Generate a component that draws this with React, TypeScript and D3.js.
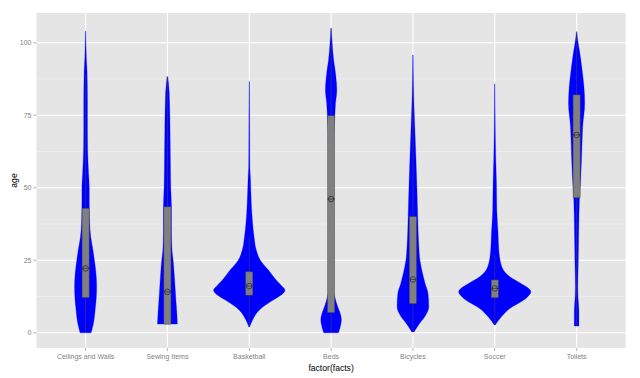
import React from "react";
import * as d3 from "d3";

// ---------- data ----------
const categories = ["Ceilings and Walls", "Sewing Items", "Basketball", "Beds", "Bicycles", "Soccer", "Toilets"];

// violin profiles: [age, relative density (1 = widest violin)]
const ceilingsProfile: [number, number][] = [
  [0, 0.15], [3, 0.21], [8, 0.26], [12, 0.29], [16, 0.3], [20, 0.285], [23, 0.26], [28.5, 0.2], [33, 0.14],
  [38, 0.11], [45, 0.1], [50, 0.1], [55, 0.08], [63, 0.055], [70, 0.05], [80, 0.05], [90, 0.04], [95, 0.02], [104, 0.005],
];
const sewingProfile: [number, number][] = [
  [3, 0.27], [7, 0.255], [11.3, 0.23], [19.3, 0.19], [25, 0.155], [28.5, 0.125], [35, 0.11], [43, 0.11],
  [50, 0.09], [59.6, 0.08], [71, 0.07], [82.6, 0.05], [88.3, 0.01],
];
const basketballProfile: [number, number][] = [
  [2, 0.01], [4.4, 0.09], [7.8, 0.27], [11.3, 0.65], [12.8, 0.84], [14.7, 0.97], [16.3, 0.87], [18.2, 0.73],
  [21.6, 0.52], [25, 0.3], [28.5, 0.19], [33.1, 0.13], [37.8, 0.09], [44.7, 0.055], [53.8, 0.03], [57.2, 0.016],
  [70, 0.011], [86.6, 0.005],
];
const bedsProfile: [number, number][] = [
  [0, 0.2], [2.1, 0.25], [4.4, 0.28], [7, 0.24], [9, 0.18], [12.4, 0.1], [16, 0.05], [25, 0.04], [40, 0.04],
  [55, 0.05], [65, 0.07], [68.8, 0.08], [74.5, 0.1], [79.1, 0.12], [83.7, 0.155], [87, 0.14], [90.5, 0.11],
  [94, 0.07], [99.8, 0.03], [105, 0.005],
];
const bicyclesProfile: [number, number][] = [
  [0.3, 0.03], [3.2, 0.18], [5.5, 0.32], [9, 0.43], [13.6, 0.41], [17, 0.33], [20.5, 0.26], [25, 0.19],
  [29.7, 0.16], [40, 0.13], [49.2, 0.11], [60.7, 0.08], [71, 0.05], [78, 0.03], [85, 0.016], [95.8, 0.005],
];
const soccerProfile: [number, number][] = [
  [2.7, 0.014], [5.5, 0.18], [8.4, 0.41], [11.3, 0.79], [12.8, 0.92], [14.1, 0.98], [15.5, 0.9], [17, 0.71],
  [19.3, 0.41], [22.8, 0.19], [28.5, 0.11], [34.3, 0.09], [42.3, 0.055], [51.5, 0.046], [60, 0.027],
  [70, 0.014], [85.8, 0.005],
];
const toiletsProfile: [number, number][] = [
  [2.3, 0.063], [7.8, 0.063], [12, 0.04], [15.9, 0.033], [25, 0.046], [36.6, 0.06], [45.8, 0.076],
  [53.8, 0.114], [61.9, 0.14], [71, 0.165], [79.1, 0.22], [84.8, 0.2], [90.6, 0.15], [96.3, 0.09],
  [100.9, 0.03], [103.8, 0.005],
];
const profiles = [ceilingsProfile, sewingProfile, basketballProfile, bedsProfile, bicyclesProfile, soccerProfile, toiletsProfile];

// boxplot statistics
const q1 = [12.2, 3, 13, 7, 10.1, 12.1, 46.6];
const medians = [22.2, 14.1, 16.1, 46.1, 18.4, 15.3, 68.2];
const q3 = [42.9, 43.4, 21, 74.8, 40, 18.2, 82];
const whiskerLow = [0, 3, 2, 0, 0.3, 3, 2.3];
const whiskerHigh = [89, 88.3, 33, 105, 85, 27, 103.8];

const yTicks = [0, 25, 50, 75, 100];
const yMinor = [12.5, 37.5, 62.5, 87.5];

// ---------- layout ----------
const W = 640, H = 378;
const left = 36.5, right = 625.7, top = 13, bottom = 348;

export default function App() {
  const x = d3.scaleLinear().domain([0.4, categories.length + 0.6]).range([left, right]);
  const y = d3.scaleLinear().domain([-5.25, 110.25]).range([bottom, top]);
  const unit = x(2) - x(1);
  const w = d3.scaleLinear().domain([0, 1]).range([0, 0.45 * unit]);
  const boxHalf = 3.5;
  const tickColor = "#7F7F7F";
  const font = "'Liberation Sans', Arial, sans-serif";

  return (
    <svg width={W} height={H} style={{ position: "absolute", left: 0, top: 0, background: "#fff" }}>
      <rect x={left} y={top} width={right - left} height={bottom - top} fill="#E5E5E5" />
      {yMinor.map((v) => (
        <line key={"mn" + v} x1={left} x2={right} y1={y(v)} y2={y(v)} stroke="#F2F2F2" strokeWidth={0.6} />
      ))}
      {yTicks.map((v) => (
        <line key={"mj" + v} x1={left} x2={right} y1={y(v)} y2={y(v)} stroke="#FFFFFF" strokeWidth={1.1} />
      ))}
      {categories.map((c, i) => (
        <line key={"vx" + c} x1={x(i + 1)} x2={x(i + 1)} y1={top} y2={bottom} stroke="#FFFFFF" strokeWidth={1.1} />
      ))}
      {profiles.map((p, i) => {
        const cx = x(i + 1);
        const area = d3
          .area<[number, number]>()
          .y((d) => y(d[0]))
          .x0((d) => cx - w(d[1]))
          .x1((d) => cx + w(d[1]))
          .curve(d3.curveMonotoneY);
        return <path key={"v" + i} d={area(p) || ""} fill="#0000FF" stroke="#0000FF" strokeWidth={0.3} />;
      })}
      {categories.map((c, i) => {
        const cx = x(i + 1);
        return (
          <g key={"b" + c}>
            <line x1={cx} x2={cx} y1={y(whiskerLow[i])} y2={y(whiskerHigh[i])} stroke="#4D4D4D" strokeWidth={0.5} />
            <rect x={cx - boxHalf} y={y(q3[i])} width={2 * boxHalf} height={y(q1[i]) - y(q3[i])} fill="#808080" stroke="#4D4D4D" strokeWidth={0.5} />
            <line x1={cx - boxHalf} x2={cx + boxHalf} y1={y(medians[i])} y2={y(medians[i])} stroke="#333333" strokeWidth={0.8} />
            <circle cx={cx} cy={y(medians[i])} r={2.8} fill="none" stroke="#222222" strokeWidth={0.7} />
          </g>
        );
      })}
      {yTicks.map((v) => (
        <g key={"yt" + v}>
          <line x1={left - 3} x2={left} y1={y(v)} y2={y(v)} stroke={tickColor} strokeWidth={0.6} />
          <text x={left - 5} y={y(v)} dy="0.35em" textAnchor="end" fontSize={7} fill={tickColor} fontFamily={font}>
            {v}
          </text>
        </g>
      ))}
      {categories.map((c, i) => (
        <g key={"xt" + c}>
          <line x1={x(i + 1)} x2={x(i + 1)} y1={bottom} y2={bottom + 3} stroke={tickColor} strokeWidth={0.6} />
          <text x={x(i + 1)} y={bottom + 11} textAnchor="middle" fontSize={7} fill={tickColor} fontFamily={font}>
            {c}
          </text>
        </g>
      ))}
      <text x={(left + right) / 2} y={371} textAnchor="middle" fontSize={8.6} fill="#000" fontFamily={font}>
        factor(facts)
      </text>
      <text
        transform={`translate(17,${(top + bottom) / 2}) rotate(-90)`}
        textAnchor="middle"
        fontSize={8.6}
        fill="#000"
        fontFamily={font}
      >
        age
      </text>
    </svg>
  );
}
